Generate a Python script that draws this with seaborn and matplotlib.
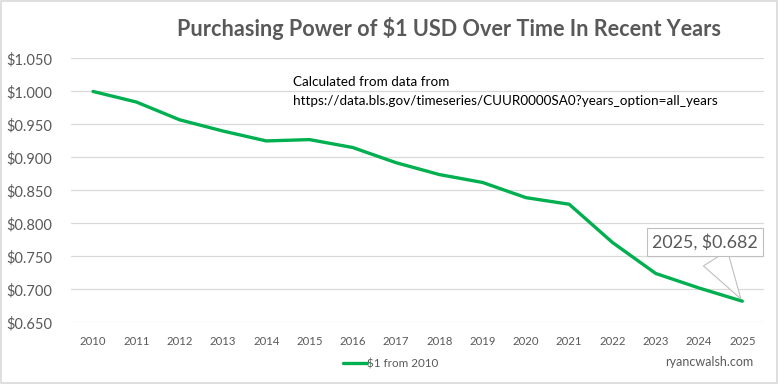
import matplotlib
matplotlib.use('Agg')
import matplotlib.pyplot as plt
import matplotlib.patches as mpatches
from matplotlib.ticker import FuncFormatter
import pandas as pd
import seaborn as sns

years = [2010, 2011, 2012, 2013, 2014, 2015, 2016, 2017,
         2018, 2019, 2020, 2021, 2022, 2023, 2024, 2025]
value = [1.000, 0.984, 0.957, 0.940, 0.925, 0.927, 0.915, 0.892,
         0.874, 0.862, 0.839, 0.829, 0.771, 0.724, 0.702, 0.682]
series_name = '$1 from 2010'
y_ticks = [0.65, 0.70, 0.75, 0.80, 0.85, 0.90, 0.95, 1.00, 1.05]

GREEN = '#00B050'
GRAY = '#595959'
GRID = '#D9D9D9'

sns.set_style('white')
plt.rcParams['font.family'] = ['Lato', 'DejaVu Sans']

df = pd.DataFrame({'Year': years, 'Value': value, 'Series': series_name})

fig = plt.figure(figsize=(7.79, 3.84), dpi=100)
ax = fig.add_axes([0.0917, 0.1607, 0.889, 0.687])

sns.lineplot(data=df, x='Year', y='Value', hue='Series', palette=[GREEN],
             linewidth=2.4, ax=ax)

ax.set_xlim(2009.5, 2025.5)
ax.set_ylim(0.65, 1.05)
ax.set_xticks(years)
ax.set_yticks(y_ticks)
ax.yaxis.set_major_formatter(FuncFormatter(lambda v, p: f'${v:.3f}'))
ax.tick_params(axis='x', labelsize=8.2, colors=GRAY, length=0, pad=10)
ax.tick_params(axis='y', labelsize=10.5, colors=GRAY, length=0, pad=14)
ax.set_xlabel('')
ax.set_ylabel('')
ax.grid(axis='y', color=GRID, linewidth=0.9)
ax.grid(axis='x', visible=False)
for s in ax.spines.values():
    s.set_visible(False)
ax.set_axisbelow(True)

# data callout on last point
ax.annotate(f'{years[-1]}, ${value[-1]:.3f}', xy=(years[-1], value[-1]),
            xytext=(2024.14, 0.772), ha='center', va='center',
            fontsize=12.8, color=GRAY,
            bbox=dict(boxstyle='square,pad=0.3', fc='white', ec='#BFBFBF', lw=0.8),
            arrowprops=dict(arrowstyle='wedge,tail_width=1.6,shrink_factor=0.5',
                            fc='white', ec='#BFBFBF', lw=0.8))

leg = ax.legend(loc='center', bbox_to_anchor=(0.461, -0.158), frameon=False,
                fontsize=8.4, handlelength=2.0, handletextpad=0.0)
for t in leg.get_texts():
    t.set_color(GRAY)

fig.text(449 / 779, 1 - 29 / 384, 'Purchasing Power of $1 USD Over Time In Recent Years',
         ha='center', va='center', fontsize=15.6, fontweight='bold', color=GRAY)
fig.text(293 / 779, 1 - 82 / 384, 'Calculated from data from', ha='left', va='center',
         fontsize=9.7, color='black')
fig.text(293 / 779, 1 - 101 / 384,
         'https://data.bls.gov/timeseries/CUUR0000SA0?years_option=all_years',
         ha='left', va='center', fontsize=9.7, color='black')
fig.text(753 / 779, 1 - 362 / 384, 'ryancwalsh.com', ha='right', va='center',
         fontsize=9, color=GRAY)

fig.patches.append(mpatches.Rectangle((0.001, 0.002), 0.997, 0.995, transform=fig.transFigure,
                                      fill=False, ec=GRID, lw=1.2))

fig.savefig('out.png', dpi=100, facecolor='white')
